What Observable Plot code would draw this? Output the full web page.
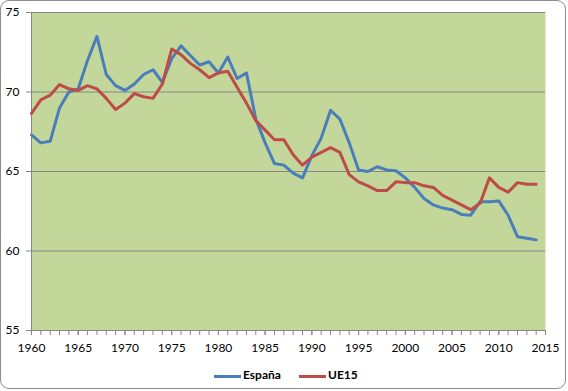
<!DOCTYPE html>
<html><head><meta charset="utf-8">
<script src="https://cdn.jsdelivr.net/npm/d3@7"></script>
<script src="https://cdn.jsdelivr.net/npm/@observablehq/plot@0.6"></script>
<style>
body{margin:0;background:#fff;}
#wrap{position:relative;width:568px;height:391px;font-family:Lato, "Open Sans", sans-serif;}
#border{position:absolute;left:0;top:0;width:566px;height:389px;box-sizing:border-box;border:1.5px solid #8c8c8c;border-radius:9px;pointer-events:none;}
#chart{position:absolute;left:0;top:0;}
.lg{position:absolute;top:368px;font-size:12px;font-weight:bold;line-height:14px;color:#000;}
.sw{position:absolute;top:375px;height:3px;width:27px;}
</style></head>
<body>
<div id="wrap">
  <div id="chart"></div>
  <div class="sw" style="left:214px;background:#4a7ebb"></div>
  <div class="lg" style="left:243px">España</div>
  <div class="sw" style="left:299px;background:#be4b48"></div>
  <div class="lg" style="left:328px">UE15</div>
  <div id="border"></div>
</div>
<script>
const years = [1960,1961,1962,1963,1964,1965,1966,1967,1968,1969,
  1970,1971,1972,1973,1974,1975,1976,1977,1978,1979,
  1980,1981,1982,1983,1984,1985,1986,1987,1988,1989,
  1990,1991,1992,1993,1994,1995,1996,1997,1998,1999,
  2000,2001,2002,2003,2004,2005,2006,2007,2008,2009,
  2010,2011,2012,2013,2014];
const espana = [67.3,66.8,66.9,69.0,70.0,70.2,72.0,73.5,71.1,70.4,
  70.1,70.5,71.1,71.4,70.6,72.1,72.9,72.3,71.7,71.9,
  71.2,72.2,70.85,71.2,68.3,66.8,65.5,65.4,64.9,64.6,
  66.0,67.1,68.85,68.3,66.8,65.1,65.0,65.3,65.1,65.05,
  64.6,64.0,63.3,62.9,62.7,62.6,62.3,62.25,63.1,63.1,
  63.15,62.25,60.9,60.8,60.7];
const ue15 = [68.65,69.5,69.8,70.47,70.2,70.1,70.4,70.2,69.6,68.9,
  69.3,69.9,69.7,69.6,70.5,72.7,72.35,71.8,71.4,70.9,
  71.2,71.3,70.3,69.3,68.2,67.6,67.0,67.0,66.05,65.4,
  65.9,66.2,66.5,66.2,64.8,64.35,64.1,63.8,63.8,64.35,
  64.3,64.3,64.1,64.0,63.5,63.2,62.9,62.6,63.0,64.6,
  64.0,63.7,64.3,64.2,64.2];
const xLabelYears = [1960,1965,1970,1975,1980,1985,1990,1995,2000,2005,2010,2015];
const xMinorYears = [...years, 2015];
const yTicks = [55,60,65,70,75];
const gridVals = [60,65,70,75];

const esData = years.map((y,i)=>({year:y, value:espana[i]}));
const ueData = years.map((y,i)=>({year:y, value:ue15[i]}));

const chart = Plot.plot({
  width:568, height:360,
  marginLeft:31, marginRight:23, marginTop:12, marginBottom:30,
  style:{fontFamily:"Lato, 'Open Sans', sans-serif", fontSize:"12px", color:"#000", background:"transparent", overflow:"visible"},
  x:{domain:[1960,2015]},
  y:{domain:[55,75]},
  marks:[
    Plot.frame({fill:"#c4d79b", stroke:null}),
    Plot.ruleY(gridVals, {stroke:"#868686", strokeWidth:1}),
    Plot.ruleY([55], {stroke:"#868686", strokeWidth:1}),
    Plot.ruleX([1960], {stroke:"#868686", strokeWidth:1}),
    Plot.axisX({ticks:xMinorYears, tickSize:5, tickFormat:()=>"", stroke:"#868686", strokeOpacity:1, label:null}),
    Plot.axisX({ticks:xLabelYears, tickSize:5, tickPadding:8, tickFormat:"d", stroke:"#868686", strokeOpacity:1, fill:"#000", label:null}),
    Plot.axisY({ticks:yTicks, tickSize:5, tickPadding:7, stroke:"#868686", strokeOpacity:1, fill:"#000", label:null}),
    Plot.line(esData, {x:"year", y:"value", stroke:"#4a7ebb", strokeWidth:3, strokeLinejoin:"round", strokeLinecap:"round"}),
    Plot.line(ueData, {x:"year", y:"value", stroke:"#be4b48", strokeWidth:3, strokeLinejoin:"round", strokeLinecap:"round"})
  ]
});
document.getElementById("chart").appendChild(chart);
</script>
</body></html>
